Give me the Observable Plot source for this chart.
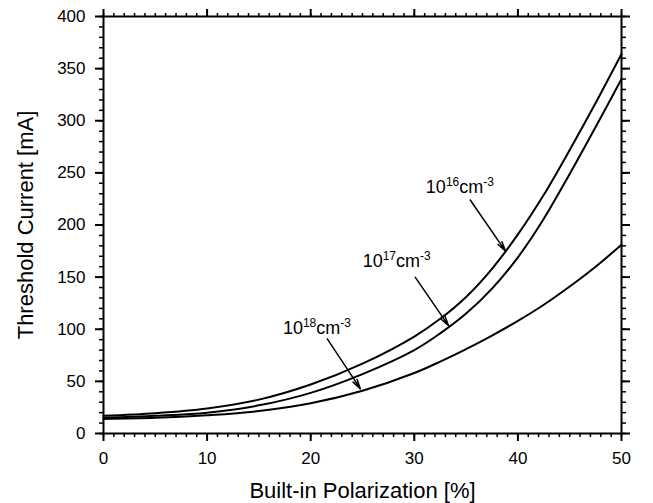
<!DOCTYPE html>
<html><head><meta charset="utf-8">
<script src="https://cdn.jsdelivr.net/npm/d3@7"></script>
<script src="https://cdn.jsdelivr.net/npm/@observablehq/plot@0.6"></script>
<style>body{margin:0;background:#fff;}</style>
</head><body><div id="chart"></div>
<script>
// Data
const polarization = [0, 5, 10, 15, 20, 25, 30, 32.5, 35, 37.5, 40, 42.5, 45, 47.5, 50];
const current1e16 = [17, 19.5, 24, 32.5, 47, 67, 93, 110, 131, 158, 191, 229, 272, 317, 364];
const current1e17 = [15, 17, 20, 27, 39, 57, 80, 96, 115, 139, 169, 206, 249, 294, 340];
const current1e18 = [14, 15, 17.5, 21.5, 29, 41, 58, 69, 81, 94, 108, 123.5, 141, 160, 181];
const seriesNames = ["1e16", "1e17", "1e18"];

const xTicks = [0, 10, 20, 30, 40, 50];
const yTicks = [0, 50, 100, 150, 200, 250, 300, 350, 400];
const xMinorTicks = d3.range(0, 51, 1);
const yMinorTicks = d3.range(0, 401, 10);

const xTitle = "Built-in Polarization [%]";
const yTitle = "Threshold Current [mA]";

// Annotations
const labelTexts = ["10^16cm^-3", "10^17cm^-3", "10^18cm^-3"];
const labelX = [34.4, 28.3, 20.6];
const labelY = [236.4, 164.9, 100.9];
const arrowX1 = [35.4, 30.1, 21.6];
const arrowY1 = [224, 149.8, 90.8];
const arrowX2 = [38.8, 33.3, 24.8];
const arrowY2 = [175, 103.5, 42.8];

const allSeries = [current1e16, current1e17, current1e18];
const rows = [];
allSeries.forEach((vals, s) => polarization.forEach((p, i) => rows.push({p, c: vals[i], s: seriesNames[s]})));
const labels = labelTexts.map((t, i) => ({t, x: labelX[i], y: labelY[i]}));
const arrows = arrowX1.map((_, i) => ({x1: arrowX1[i], y1: arrowY1[i], x2: arrowX2[i], y2: arrowY2[i]}));

const svg = Plot.plot({
  width: 653,
  height: 503,
  marginLeft: 103,
  marginRight: 32,
  marginTop: 16,
  marginBottom: 70,
  style: {fontFamily: "'Liberation Sans', Arial, sans-serif", fontSize: "17px", color: "black", background: "white"},
  x: {domain: [0, 50]},
  y: {domain: [0, 400]},
  marks: [
    // minor ticks
    Plot.axisX(xMinorTicks, {anchor: "bottom", tickSize: 4, strokeWidth: 1.5, fill: "none", label: null}),
    Plot.axisX(xMinorTicks, {anchor: "top", tickSize: 4, strokeWidth: 1.5, fill: "none", label: null}),
    Plot.axisY(yMinorTicks, {anchor: "left", tickSize: 4, strokeWidth: 1.5, fill: "none", label: null}),
    Plot.axisY(yMinorTicks, {anchor: "right", tickSize: 4, strokeWidth: 1.5, fill: "none", label: null}),
    // major ticks
    Plot.axisX(xTicks, {anchor: "bottom", tickSize: 8, tickPadding: 10, strokeWidth: 2, label: null}),
    Plot.axisX(xTicks, {anchor: "top", tickSize: 8, strokeWidth: 2, fill: "none", label: null}),
    Plot.axisY(yTicks, {anchor: "left", tickSize: 8, tickPadding: 10, strokeWidth: 2, label: null}),
    Plot.axisY(yTicks, {anchor: "right", tickSize: 8, strokeWidth: 2, fill: "none", label: null}),
    Plot.frame({stroke: "black", strokeWidth: 2}),
    Plot.line(rows, {x: "p", y: "c", z: "s", stroke: "black", strokeWidth: 2, curve: "catmull-rom"}),
    Plot.arrow(arrows, {x1: "x1", y1: "y1", x2: "x2", y2: "y2", stroke: "black", strokeWidth: 1.5, headLength: 10, headAngle: 28}),
    Plot.text(labels, {x: "x", y: "y", text: "t", fontSize: 18, fill: "black", textAnchor: "middle", lineAnchor: "middle"}),
    Plot.text([xTitle], {frameAnchor: "bottom", dy: 57, lineAnchor: "middle", textAnchor: "middle", fontSize: 22, fill: "black"}),
    Plot.text([yTitle], {frameAnchor: "left", dx: -78, rotate: -90, lineAnchor: "middle", textAnchor: "middle", fontSize: 22, fill: "black"})
  ]
});

// Turn "^" markers into superscript tspans (text stays real text)
const ns = "http://www.w3.org/2000/svg";
d3.select(svg).selectAll("text").filter(function() { return this.textContent.includes("^"); }).each(function() {
  const s = this.textContent;
  this.textContent = "";
  const parts = s.split(/(\^-?\d+)/).filter(p => p);
  let raised = false;
  for (const p of parts) {
    const t = document.createElementNS(ns, "tspan");
    if (p.startsWith("^")) {
      t.textContent = p.slice(1);
      t.setAttribute("font-size", 12);
      if (!raised) t.setAttribute("dy", -7);
      raised = true;
    } else {
      t.textContent = p;
      if (raised) t.setAttribute("dy", 7);
      raised = false;
    }
    this.appendChild(t);
  }
});

document.getElementById("chart").appendChild(svg);
</script>
</body></html>
